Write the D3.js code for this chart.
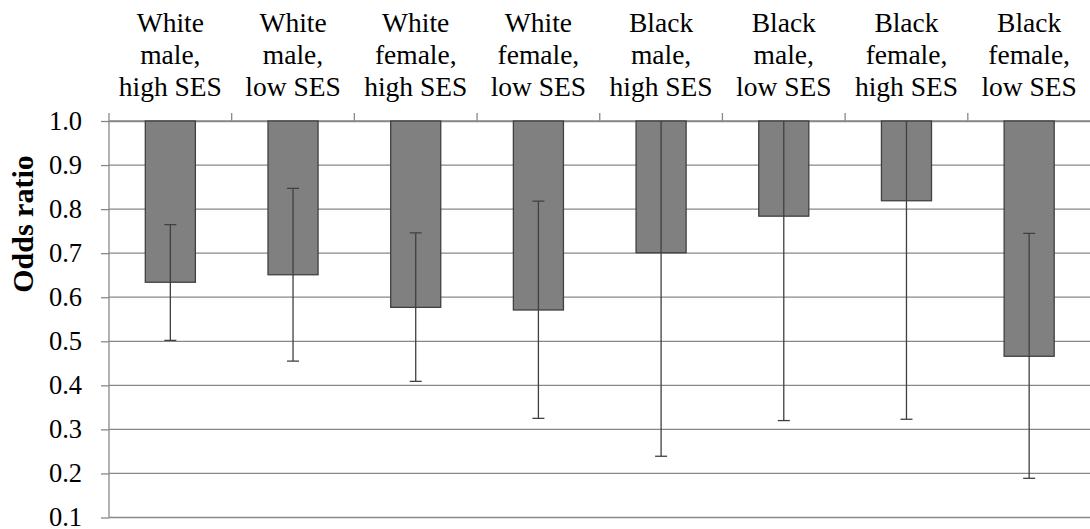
<!DOCTYPE html>
<html>

<head>
    <meta charset="utf-8">
    <title>Odds ratio</title>
    <script src="https://d3js.org/d3.v7.min.js"></script>
    <style>
        html,
        body {
            margin: 0;
            padding: 0;
            background: #fff;
        }

        text {
            font-family: 'Liberation Serif', Tinos, 'Times New Roman', 'DejaVu Serif', serif;
            fill: #000;
        }
    </style>
</head>

<body>
    <div id="chart"></div>

    <script>
        // Data
        const groups = [
            ["White", "male,", "high SES"],
            ["White", "male,", "low SES"],
            ["White", "female,", "high SES"],
            ["White", "female,", "low SES"],
            ["Black", "male,", "high SES"],
            ["Black", "male,", "low SES"],
            ["Black", "female,", "high SES"],
            ["Black", "female,", "low SES"]
        ];
        const oddsRatio = [0.634, 0.651, 0.577, 0.571, 0.701, 0.784, 0.819, 0.466];
        const ciLower = [0.502, 0.455, 0.409, 0.325, 0.239, 0.320, 0.323, 0.189];
        // upper limits for the black groups run past 1.0 and are cut off by the plot
        const ciUpper = [0.765, 0.847, 0.746, 0.818, 1.5, 1.5, 1.5, 0.745];
        const yTicks = [0.1, 0.2, 0.3, 0.4, 0.5, 0.6, 0.7, 0.8, 0.9, 1.0];

        const data = groups.map((g, i) => ({
            key: g.join(" "),
            lines: g,
            value: oddsRatio[i],
            lo: ciLower[i],
            hi: ciUpper[i]
        }));

        const W = 1090, H = 529;
        const margin = { top: 121, right: 0, bottom: 12, left: 109 };
        const width = 981.5, height = 396.5;
        const serif = "'Liberation Serif', Tinos, 'Times New Roman', 'DejaVu Serif', serif";

        const svg = d3.select("#chart")
            .append("svg")
            .attr("width", W)
            .attr("height", H);

        const g = svg.append("g")
            .attr("transform", `translate(${margin.left},${margin.top})`);

        // scales
        const x = d3.scaleBand()
            .domain(data.map(d => d.key))
            .range([0, width])
            .paddingInner(0.592)
            .paddingOuter(0.296);

        const y = d3.scaleLinear()
            .domain([0.1, 1.0])
            .range([height, 0]);

        const gridColor = "#888888";
        const darkColor = "#404040";

        // horizontal gridlines
        g.append("g")
            .selectAll("line")
            .data(yTicks)
            .join("line")
            .attr("x1", 0)
            .attr("x2", width)
            .attr("y1", d => y(d))
            .attr("y2", d => y(d))
            .attr("stroke", gridColor)
            .attr("stroke-width", 1.3);

        // y axis
        const yAxis = g.append("g")
            .call(d3.axisLeft(y)
                .tickValues(yTicks)
                .tickFormat(d3.format(".1f"))
                .tickSize(8)
                .tickPadding(19)
                .tickSizeOuter(0));
        yAxis.attr("font-family", null).attr("font-size", null);
        yAxis.select(".domain").remove();
        yAxis.selectAll(".tick line").attr("stroke", gridColor).attr("stroke-width", 1.3);
        yAxis.selectAll(".tick text")
            .style("font-family", serif)
            .style("font-size", "26.5px")
            .attr("fill", "#000");

        // vertical axis line, sticking a little above the top
        g.append("line")
            .attr("x1", 0).attr("x2", 0)
            .attr("y1", -8).attr("y2", height)
            .attr("stroke", gridColor)
            .attr("stroke-width", 1.3);

        // category axis on top (crosses at 1.0)
        const xAxis = g.append("g")
            .attr("transform", `translate(0,${y(1.0)})`)
            .call(d3.axisTop(x).tickSize(0).tickFormat(""));
        xAxis.select(".domain").attr("stroke", gridColor).attr("stroke-width", 1.3);
        xAxis.selectAll(".tick").remove();

        // tick marks between categories
        g.append("g")
            .selectAll("line")
            .data(data.slice(1))
            .join("line")
            .attr("x1", d => x(d.key) - x.step() * x.paddingInner() / 2)
            .attr("x2", d => x(d.key) - x.step() * x.paddingInner() / 2)
            .attr("y1", y(1.0) - 8)
            .attr("y2", y(1.0))
            .attr("stroke", gridColor)
            .attr("stroke-width", 1.3);

        // category labels
        const labels = g.append("g")
            .selectAll("text")
            .data(data)
            .join("text")
            .attr("x", d => x(d.key) + x.bandwidth() / 2)
            .attr("y", -89.5)
            .attr("text-anchor", "middle")
            .style("font-family", serif)
            .style("font-size", "27.5px");
        labels.selectAll("tspan")
            .data(d => d.lines.map(l => ({ l, cx: x(d.key) + x.bandwidth() / 2 })))
            .join("tspan")
            .attr("x", t => t.cx)
            .attr("dy", (t, i) => i === 0 ? 0 : 32)
            .text(t => t.l);

        // clip for error bars running past the axis
        svg.append("clipPath")
            .attr("id", "plot-clip")
            .append("rect")
            .attr("x", 0)
            .attr("y", 0)
            .attr("width", width)
            .attr("height", height);

        // bars hanging from 1.0
        g.append("g")
            .selectAll("rect")
            .data(data)
            .join("rect")
            .attr("x", d => x(d.key))
            .attr("y", y(1.0))
            .attr("width", x.bandwidth())
            .attr("height", d => y(d.value) - y(1.0))
            .attr("fill", "#808080")
            .attr("stroke", darkColor)
            .attr("stroke-width", 1.3);

        // error bars
        const err = g.append("g")
            .attr("clip-path", "url(#plot-clip)")
            .selectAll("g")
            .data(data)
            .join("g")
            .attr("transform", d => `translate(${x(d.key) + x.bandwidth() / 2},0)`)
            .attr("stroke", darkColor)
            .attr("stroke-width", 1.3);

        err.append("line")
            .attr("y1", d => y(d.lo))
            .attr("y2", d => y(d.hi));

        err.append("line")
            .attr("x1", -6).attr("x2", 6)
            .attr("y1", d => y(d.lo))
            .attr("y2", d => y(d.lo));

        err.append("line")
            .attr("x1", -6).attr("x2", 6)
            .attr("y1", d => y(d.hi))
            .attr("y2", d => y(d.hi));

        // y axis title
        svg.append("text")
            .attr("transform", `translate(33,224) rotate(-90)`)
            .attr("text-anchor", "middle")
            .style("font-family", serif)
            .style("font-size", "30px")
            .style("font-weight", "bold")
            .text("Odds ratio");
    </script>
</body>

</html>
